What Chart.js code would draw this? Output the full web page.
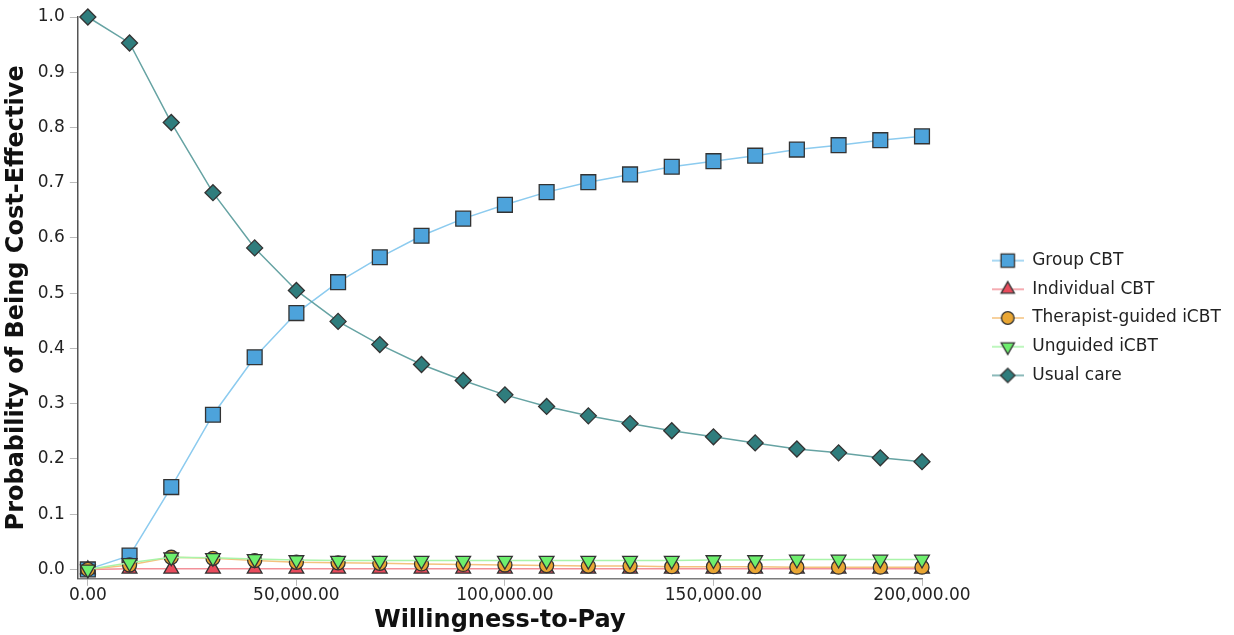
<!DOCTYPE html>
<html>
<head>
<meta charset="utf-8">
<script src="https://cdn.jsdelivr.net/npm/chart.js@4.4.1/dist/chart.umd.min.js"></script>
<style>
  html, body { margin: 0; padding: 0; background: #fff; }
  #wrap { width: 1234px; height: 635px; position: relative; }
</style>
</head>
<body>
<div id="wrap"><canvas id="ceac"></canvas></div>
<script>
// --- datos (probabilidad de ser coste-efectivo) ---
const wtp = [0, 10000, 20000, 30000, 40000, 50000, 60000, 70000, 80000, 90000, 100000,
             110000, 120000, 130000, 140000, 150000, 160000, 170000, 180000, 190000, 200000];

const groupCBT = [0.000, 0.025, 0.149, 0.280, 0.384, 0.464, 0.520, 0.565, 0.604, 0.635, 0.660,
                  0.683, 0.701, 0.715, 0.729, 0.739, 0.749, 0.760, 0.768, 0.777, 0.784];
const individualCBT = [0.000, 0.001, 0.001, 0.001, 0.001, 0.001, 0.001, 0.001, 0.001, 0.001, 0.001,
                       0.001, 0.001, 0.001, 0.001, 0.001, 0.001, 0.001, 0.001, 0.001, 0.001];
const therapistICBT = [0.000, 0.008, 0.022, 0.020, 0.016, 0.013, 0.012, 0.011, 0.010, 0.009, 0.008,
                       0.007, 0.006, 0.006, 0.005, 0.005, 0.005, 0.004, 0.004, 0.004, 0.004];
const unguidedICBT = [0.000, 0.012, 0.022, 0.021, 0.019, 0.017, 0.016, 0.016, 0.016, 0.016, 0.016,
                      0.016, 0.016, 0.016, 0.016, 0.017, 0.017, 0.018, 0.018, 0.018, 0.018];
const usualCare = [1.000, 0.953, 0.809, 0.682, 0.582, 0.505, 0.449, 0.407, 0.371, 0.342, 0.316,
                   0.295, 0.278, 0.264, 0.251, 0.240, 0.229, 0.218, 0.211, 0.202, 0.195];

const seriesNames = ["Group CBT", "Individual CBT", "Therapist-guided iCBT", "Unguided iCBT", "Usual care"];
const xTicks = [0, 50000, 100000, 150000, 200000];
const yTicks = [0, 0.1, 0.2, 0.3, 0.4, 0.5, 0.6, 0.7, 0.8, 0.9, 1.0];

const FONT = "'DejaVu Sans', Verdana, sans-serif";
const EDGE = "#333333";

// estilo de cada serie: marcador, color de relleno, color de línea
const STYLES = [
  { point: "rect",     radius: 10.5, rot: 0,   fill: "#4DA3DB", line: "#8CCBEF" },
  { point: "triangle", radius: 8.5,  rot: 0,   fill: "#E84B5C", line: "#F29099" },
  { point: "circle",   radius: 7,    rot: 0,   fill: "#E9A633", line: "#F4C27E" },
  { point: "triangle", radius: 8.5,  rot: 180, fill: "#6DEF6D", line: "#A9F4A9" },
  { point: "rectRot",  radius: 8,    rot: 0,   fill: "#2F7D7D", line: "#66A3A3" }
];

function toXY(values) {
  return values.map((v, i) => ({ x: wtp[i], y: v }));
}

// icono de leyenda: línea + marcador, como en el original
function legendIcon(st) {
  const c = document.createElement("canvas");
  c.width = 32; c.height = 20;
  const g = c.getContext("2d");
  g.strokeStyle = st.line; g.lineWidth = 1.5;
  g.beginPath(); g.moveTo(0, 10); g.lineTo(32, 10); g.stroke();
  g.fillStyle = st.fill; g.strokeStyle = EDGE; g.lineWidth = 1.3;
  Chart.helpers.drawPoint(g, { pointStyle: st.point, radius: st.radius * 0.9, rotation: st.rot, borderWidth: 1.3 }, 16, 10);
  return c;
}

// la leyenda del original queda más a la derecha y un poco más arriba
const legendShift = {
  id: "legendShift",
  afterLayout(chart) {
    const l = chart.legend;
    if (!l) return;
    l.left += 58; l.right += 58;
    l.top -= 8; l.bottom -= 8;
  }
};

const allValues = [groupCBT, individualCBT, therapistICBT, unguidedICBT, usualCare];

const datasets = allValues.map((vals, i) => {
  const st = STYLES[i];
  return {
    label: seriesNames[i],
    data: toXY(vals),
    borderColor: st.line,
    borderWidth: 1.5,
    backgroundColor: st.fill,
    pointStyle: st.point,
    pointRotation: st.rot,
    pointRadius: st.radius,
    pointBackgroundColor: st.fill,
    pointBorderColor: EDGE,
    pointBorderWidth: 1.3,
    tension: 0,
    clip: false,
    order: 5 - i
  };
});

new Chart(document.getElementById("ceac"), {
  type: "line",
  data: { datasets },
  plugins: [legendShift],
  options: {
    responsive: true,
    maintainAspectRatio: false,
    animation: false,
    layout: { padding: { top: 17, right: 0, bottom: 0, left: 2 } },
    plugins: {
      tooltip: { enabled: false },
      legend: {
        position: "right",
        labels: {
          color: "#222",
          font: { family: FONT, size: 17 },
          usePointStyle: true,
          pointStyleWidth: 32,
          boxHeight: 17,
          padding: 11.7,
          generateLabels: (chart) => chart.data.datasets.map((d, i) => ({
            text: d.label,
            fontColor: "#222",
            pointStyle: legendIcon(STYLES[i]),
            fillStyle: STYLES[i].fill,
            strokeStyle: EDGE,
            lineWidth: 0,
            hidden: false,
            datasetIndex: i
          }))
        }
      }
    },
    scales: {
      x: {
        type: "linear",
        min: -2400,
        max: 200000,
        afterBuildTicks: (ax) => { ax.ticks = xTicks.map(v => ({ value: v })); },
        // deja hueco entre el área del gráfico y la leyenda
        afterFit: (ax) => { ax.paddingRight = 312; },
        ticks: {
          color: "#222",
          font: { family: FONT, size: 17 },
          maxRotation: 0,
          padding: 0,
          callback: (v) => Number(v).toLocaleString("en-US", { minimumFractionDigits: 2, maximumFractionDigits: 2 })
        },
        grid: { drawOnChartArea: false, color: "#bbbbbb", tickLength: 7 },
        border: { color: "#7a7a7a", width: 1.5 },
        title: { display: true, text: "Willingness-to-Pay", color: "#111", font: { family: FONT, size: 24, weight: "bold" }, padding: { top: 0, bottom: 0 } }
      },
      y: {
        type: "linear",
        min: -0.017,
        max: 1.0,
        afterBuildTicks: (ax) => { ax.ticks = yTicks.map(v => ({ value: v })); },
        ticks: {
          color: "#222",
          font: { family: FONT, size: 17 },
          padding: 5,
          callback: (v) => Number(v).toFixed(1)
        },
        grid: { drawOnChartArea: false, color: "#bbbbbb", tickLength: 8 },
        border: { color: "#555555", width: 1.5 },
        title: { display: true, text: "Probability of Being Cost-Effective", color: "#111", font: { family: FONT, size: 24, weight: "bold" }, padding: { top: 0, bottom: 2 } }
      }
    }
  }
});
</script>
</body>
</html>
